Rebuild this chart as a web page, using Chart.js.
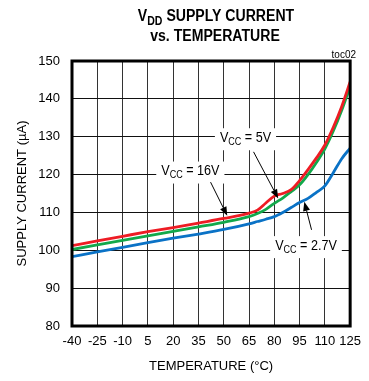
<!DOCTYPE html>
<html>
<head>
<meta charset="utf-8">
<script src="https://cdn.jsdelivr.net/npm/chart.js@4.4.1/dist/chart.umd.min.js"></script>
<style>
  html, body { margin: 0; padding: 0; background: #fff; }
  canvas { display: block; }
</style>
</head>
<body>
<canvas id="tocChart" width="369" height="381"></canvas>
<script>
// temperature (degC) and supply current (uA)
const temps = [-40, -25, -10, 5, 20, 35, 50, 65, 70, 75, 80, 85, 90, 95, 100, 105, 110, 115, 120, 125];
const icc16V = [101.2, 102.5, 103.7, 104.9, 106.0, 107.2, 108.4, 109.8, 110.6, 112.5, 114.3, 115.0, 116.0, 118.4, 121.3, 124.4, 127.8, 132.5, 138.0, 144.5];
const icc5V  = [100.2, 101.4, 102.6, 103.8, 105.0, 106.2, 107.4, 108.9, 109.7, 110.8, 112.4, 113.8, 115.5, 117.3, 120.0, 123.2, 126.8, 131.5, 137.0, 143.3];
const icc27V = [98.3, 99.6, 100.8, 102.0, 103.2, 104.3, 105.5, 107.0, 107.6, 108.2, 108.9, 110.0, 111.3, 112.6, 113.7, 115.3, 117.0, 120.5, 124.2, 127.0];

const seriesNames = ['VCC = 16V', 'VCC = 5V', 'VCC = 2.7V'];
const seriesColors = ['#ee1c24', '#12a84b', '#0a72c6'];

// callout labels: [value suffix, label centre (T, I), arrow tail (T, I), arrow tip (T, I)]
const callouts = [
    [' = 16V', [30.2, 120.8], [42.2, 118.0], [52.1, 109.1]],
    [' = 5V', [62.9, 129.6], [67.7, 126.0], [82.3, 113.7]],
    [' = 2.7V', [98.8, 101.1], [102.1, 105.4], [97.8, 112.8]]
];

const FONT = '"Liberation Sans", Arial, sans-serif';

function toPoints(ys) {
    return temps.map((t, i) => ({ x: t, y: ys[i] }));
}

// draw a run of [text, isSubscript] pieces centred on cx, squeezed horizontally
function richText(ctx, parts, cx, cy, size, bold, squeeze) {
    const w = bold ? 'bold ' : '';
    const big = w + size + 'px ' + FONT;
    const small = w + Math.round(size * 0.72) + 'px ' + FONT;
    let total = 0;
    parts.forEach(p => { ctx.font = p[1] ? small : big; total += ctx.measureText(p[0]).width; });
    ctx.save();
    ctx.translate(cx, cy);
    ctx.scale(squeeze, 1);
    let x = -total / 2;
    ctx.textBaseline = 'middle';
    ctx.textAlign = 'left';
    parts.forEach(p => {
        ctx.font = p[1] ? small : big;
        ctx.fillText(p[0], x, p[1] ? size * 0.3 : 0);
        x += ctx.measureText(p[0]).width;
    });
    ctx.restore();
    return total * squeeze;
}

function arrow(ctx, x1, y1, x2, y2) {
    const a = Math.atan2(y2 - y1, x2 - x1);
    const len = 9, half = 3.5;
    ctx.beginPath();
    ctx.moveTo(x1, y1);
    ctx.lineTo(x2 - Math.cos(a) * len, y2 - Math.sin(a) * len);
    ctx.stroke();
    ctx.beginPath();
    ctx.moveTo(x2, y2);
    ctx.lineTo(x2 - Math.cos(a) * len - Math.sin(a) * half, y2 - Math.sin(a) * len + Math.cos(a) * half);
    ctx.lineTo(x2 - Math.cos(a) * len + Math.sin(a) * half, y2 - Math.sin(a) * len - Math.cos(a) * half);
    ctx.closePath();
    ctx.fill();
}

const decorations = {
    id: 'decorations',
    afterDatasetsDraw(chart) {
        const ctx = chart.ctx;
        const xs = chart.scales.x, ys = chart.scales.y;
        ctx.save();
        ctx.fillStyle = '#000';
        ctx.strokeStyle = '#000';
        ctx.lineWidth = 1;
        callouts.forEach(c => {
            const cx = xs.getPixelForValue(c[1][0]);
            const cy = ys.getPixelForValue(c[1][1]);
            const parts = [['V', false], ['CC', true], [c[0], false]];
            // measure first to size the white box
            let w = 0;
            parts.forEach(p => { ctx.font = (p[1] ? 10 : 14) + 'px ' + FONT; w += ctx.measureText(p[0]).width; });
            w *= 0.9;
            ctx.fillStyle = '#fff';
            ctx.fillRect(cx - w / 2 - 5, cy - 10, w + 10, 22);
            ctx.fillStyle = '#000';
            richText(ctx, parts, cx, cy, 14, false, 0.9);
            arrow(ctx, xs.getPixelForValue(c[2][0]), ys.getPixelForValue(c[2][1]),
                xs.getPixelForValue(c[3][0]), ys.getPixelForValue(c[3][1]));
        });
        // plot frame
        const a = chart.chartArea;
        ctx.lineWidth = 3;
        ctx.strokeRect(a.left, a.top, a.right - a.left, a.bottom - a.top);
        ctx.restore();
    },
    afterDraw(chart) {
        const ctx = chart.ctx;
        ctx.save();
        ctx.fillStyle = '#000';
        richText(ctx, [['V', false], ['DD', true], [' SUPPLY CURRENT', false]], 216, 17, 16, true, 0.88);
        richText(ctx, [['vs. TEMPERATURE', false]], 215, 37, 16, true, 0.88);
        ctx.font = '10px ' + FONT;
        ctx.textAlign = 'right';
        ctx.textBaseline = 'middle';
        ctx.fillText('toc02', 356, 55);
        ctx.restore();
    }
};

Chart.register(decorations);

new Chart(document.getElementById('tocChart').getContext('2d'), {
    type: 'line',
    data: {
        datasets: seriesNames.map((name, i) => ({
            label: name,
            data: toPoints([icc16V, icc5V, icc27V][i]),
            borderColor: seriesColors[i],
            borderWidth: 2.8,
            pointRadius: 0,
            tension: 0.4,
            cubicInterpolationMode: 'monotone',
            fill: false
        }))
    },
    options: {
        responsive: false,
        animation: false,
        layout: { padding: { top: 61, right: 14, left: 0, bottom: 0 } },
        plugins: { legend: { display: false }, tooltip: { enabled: false } },
        scales: {
            x: {
                type: 'linear',
                min: -40,
                max: 125,
                afterFit: s => { s.height = 55; },
                ticks: { stepSize: 15, padding: 8, color: '#000', font: { family: FONT, size: 13 }, maxRotation: 0 },
                grid: { color: '#333', lineWidth: 1, drawTicks: false },
                border: { display: false },
                title: { display: true, text: 'TEMPERATURE (°C)', color: '#000', font: { family: FONT, size: 13 }, padding: { top: 0, bottom: 7 } }
            },
            y: {
                min: 80,
                max: 150,
                afterFit: s => { s.width = 72; },
                ticks: { stepSize: 10, padding: 12, color: '#000', font: { family: FONT, size: 13 } },
                grid: { color: '#111', lineWidth: 1, drawTicks: false },
                border: { display: false },
                title: { display: true, text: 'SUPPLY CURRENT (µA)', color: '#000', font: { family: FONT, size: 13 }, padding: { top: 15, bottom: 0 } }
            }
        }
    }
});
</script>
</body>
</html>
